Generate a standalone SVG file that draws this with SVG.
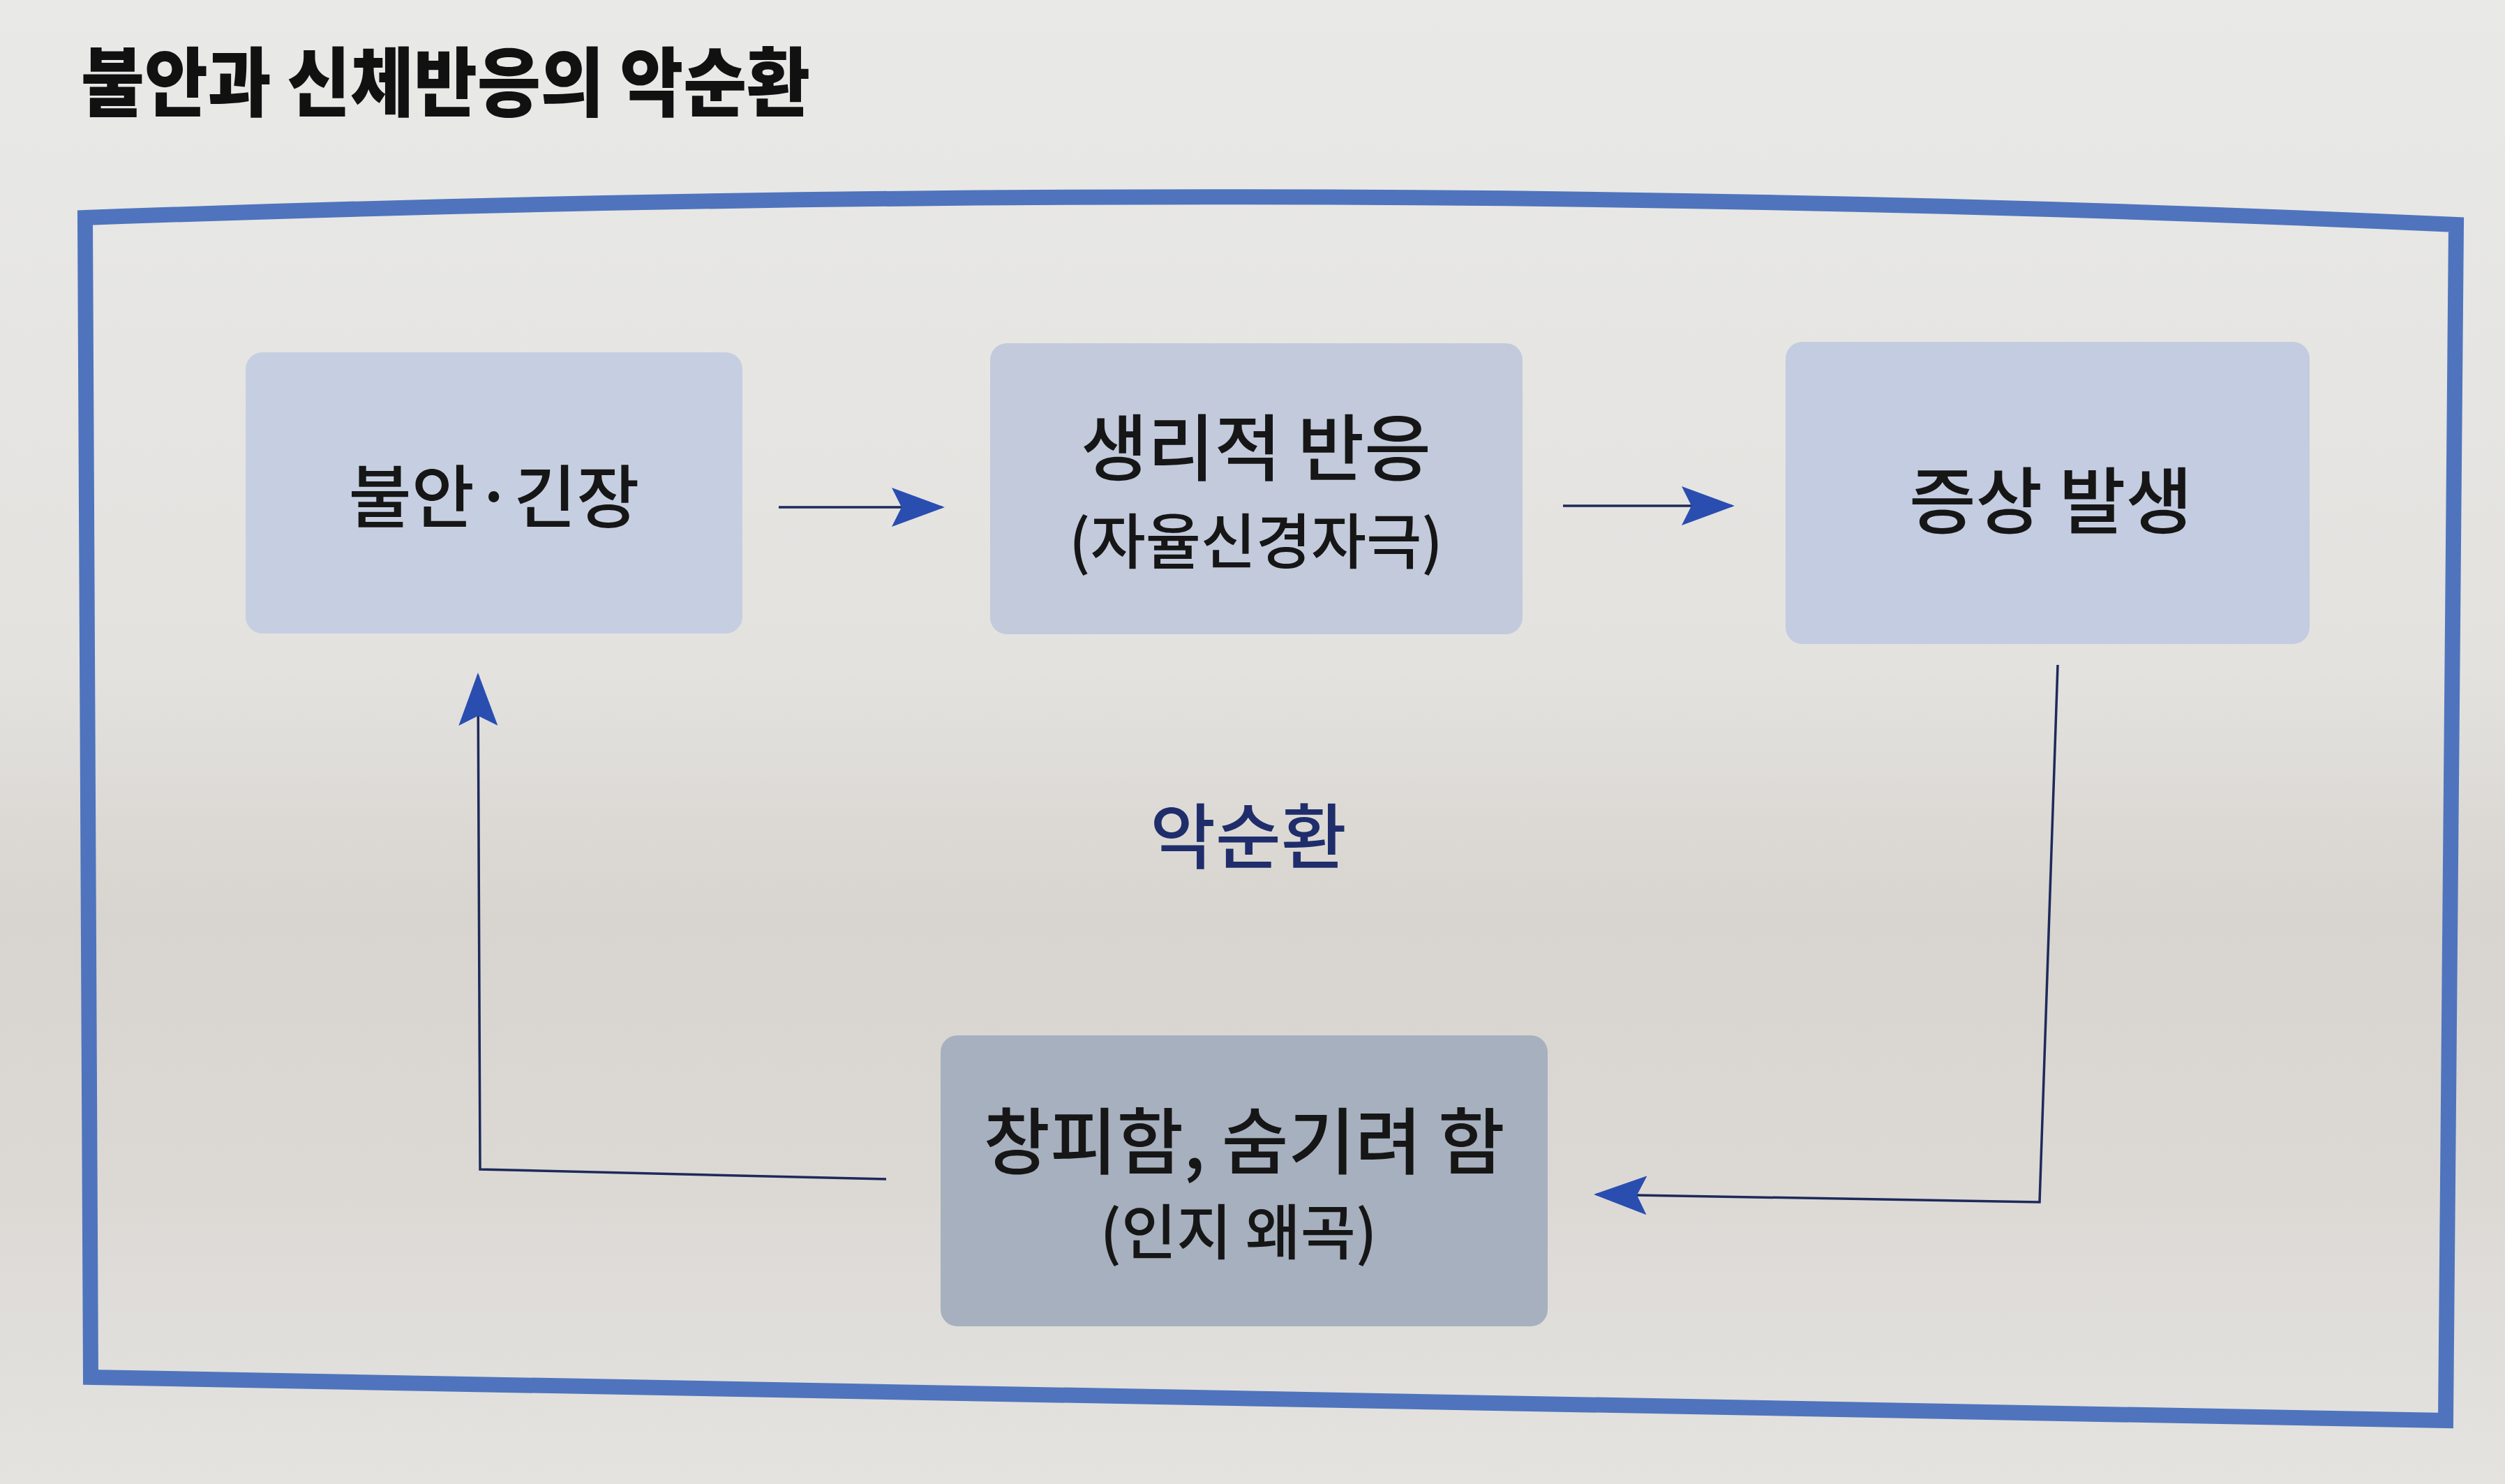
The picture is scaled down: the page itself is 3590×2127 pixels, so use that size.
<svg xmlns="http://www.w3.org/2000/svg" width="3590" height="2127" viewBox="0 0 3590 2127">
<defs>
<linearGradient id="paper" x1="0" y1="0" x2="0" y2="1">
<stop offset="0" stop-color="#e9e9e7"/>
<stop offset="0.45" stop-color="#e3e2df"/>
<stop offset="0.62" stop-color="#d8d4cf"/>
<stop offset="0.8" stop-color="#dcd9d5"/>
<stop offset="1" stop-color="#e4e3e0"/>
</linearGradient>
<marker id="ah" viewBox="0 0 76 56" refX="72" refY="28" markerWidth="76" markerHeight="56" markerUnits="userSpaceOnUse" orient="auto">
<path d="M0,0 L76,28 L0,56 L14,28 Z" fill="#2a4db0"/>
</marker>
<style>
.node rect{stroke:none}
.t{font-family:"Noto Sans CJK KR","Noto Sans CJK SC",sans-serif;font-weight:500;fill:#161616;text-anchor:middle}
.big{font-size:104px}
.small{font-size:86px}
.conn{fill:none;stroke:#1e2a5a;stroke-width:3.5}
</style>
</defs>
<rect x="0" y="0" width="3590" height="2127" fill="url(#paper)"/>
<text x="116" y="158" font-family="'Noto Sans CJK KR','Noto Sans CJK SC',sans-serif" font-weight="900" font-size="108" fill="#111" textLength="1045" lengthAdjust="spacingAndGlyphs">불안과 신체반응의 악순환</text>
<path id="frame" d="M122,312 Q1900,248 3520,322 L3505,2036 L130,1974 Z" fill="none" stroke="#4f74bd" stroke-width="22" stroke-linejoin="miter"/>
<g id="connectors">
<path class="conn" d="M1116,727 L1350,727" marker-end="url(#ah)"/>
<path class="conn" d="M2240,725 L2482,725" marker-end="url(#ah)"/>
<path class="conn" d="M2949,953 L2923,1723 L2288,1712" marker-end="url(#ah)"/>
<path class="conn" d="M1270,1690 L688,1676 L685,968" marker-end="url(#ah)"/>
</g>
<g id="node-anxiety" class="node">
<rect x="352" y="505" width="712" height="403" rx="24" fill="#c6cfe1"/>
<text class="t" x="708" y="748" font-size="98">불안·긴장</text>
</g>
<g id="node-physio" class="node">
<rect x="1419" y="492" width="763" height="417" rx="24" fill="#c2cadc"/>
<text class="t big" x="1800" y="681">생리적 반응</text>
<text class="t small" x="1800" y="808">(자율신경자극)</text>
</g>
<g id="node-symptom" class="node">
<rect x="2559" y="490" width="751" height="433" rx="24" fill="#c3cce0"/>
<text class="t big" x="2939" y="757">증상 발생</text>
</g>
<g id="node-shame" class="node">
<rect x="1348" y="1484" width="870" height="417" rx="24" fill="#a7b0be"/>
<text class="t big" x="1783" y="1675">창피함, 숨기려 함</text>
<text class="t small" x="1775" y="1798">(인지 왜곡)</text>
</g>
<text id="label-cycle" x="1789" y="1237" font-family="'Noto Sans CJK KR','Noto Sans CJK SC',sans-serif" font-weight="500" font-size="102" fill="#1f2d6b" text-anchor="middle">악순환</text>
</svg>
